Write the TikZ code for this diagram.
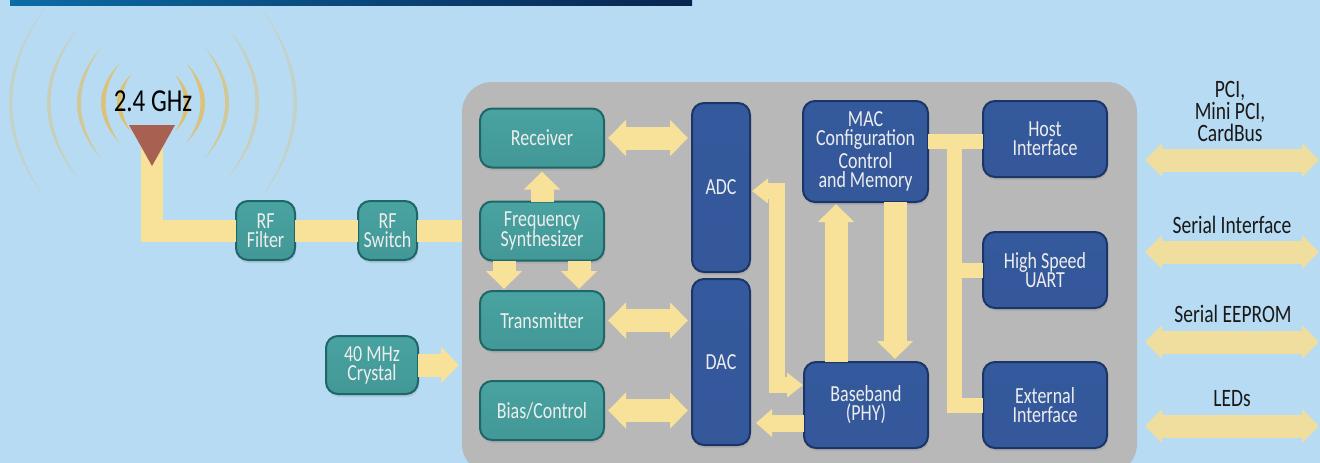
\documentclass[tikz,border=0pt]{standalone}
\usepackage{fontspec}
\setmainfont[FakeStretch=.78]{Carlito}
\usepackage{xcolor}
\usetikzlibrary{arrows.meta,positioning,calc,shadows}
\definecolor{skyback}{HTML}{B7DBF3}
\definecolor{chipgray}{HTML}{B8B8B8}
\definecolor{wireyellow}{HTML}{F8E199}
\definecolor{portyellow}{HTML}{F0DE9E}
\definecolor{waveorange}{HTML}{E4BC58}
\definecolor{tealedge}{HTML}{1F6668}
\definecolor{tealtop}{HTML}{49A3A1}
\definecolor{tealmid}{HTML}{57B0AD}
\definecolor{tealbot}{HTML}{429896}
\definecolor{blueedge}{HTML}{1B3566}
\definecolor{bluetop}{HTML}{34599C}
\definecolor{bluemid}{HTML}{3F66AC}
\definecolor{bluebot}{HTML}{34589A}
\definecolor{antennared}{HTML}{A86050}
\tikzset{
  chipbox/.style={rounded corners=12pt,outer sep=0pt,inner sep=0pt,align=center,text=white!93!black,
    font=\fontsize{23}{19}\selectfont,line width=2pt,
    drop shadow={shadow xshift=1pt,shadow yshift=-3pt,opacity=.2}},
  tealbox/.style={chipbox,draw=tealedge,top color=tealtop,middle color=tealmid,bottom color=tealbot},
  bluebox/.style={chipbox,draw=blueedge,top color=bluetop,middle color=bluemid,bottom color=bluebot},
  portlabel/.style={font=\fontsize{25}{22}\selectfont,align=center,text=black!90},
  fatarrow/.style={draw=wireyellow,line width=23pt,-{Triangle[length=18pt,width=35pt]}},
  fatboth/.style={draw=wireyellow,line width=23pt,{Triangle[length=18pt,width=35pt]}-{Triangle[length=18pt,width=35pt]}},
  thinboth/.style={draw=wireyellow,line width=16pt,{Triangle[length=16pt,width=24pt]}-{Triangle[length=16pt,width=24pt]}},
  portarrow/.style={draw=portyellow,line width=23pt,{Triangle[length=17pt,width=33pt]}-{Triangle[length=17pt,width=33pt]}},
  busline/.style={draw=wireyellow,line width=15pt}
}
\begin{document}
\begin{tikzpicture}[x=1pt,y=-1pt]
  \useasboundingbox (0,0) rectangle (1320,463);
  \clip (0,0) rectangle (1320,463);
  \fill[skyback] (0,0) rectangle (1320,463);
  \definecolor{barleft}{HTML}{0B6CA6}
  \definecolor{barright}{HTML}{0A2450}
  \shade[left color=barleft,right color=barright] (10,0) rectangle (692,5);

  % radio waves
  \foreach \r/\a/\w/\o in {36/52/4.5/.9,52/50/4.5/.8,76/47/4/.6,106/45/3.5/.4,144/42/3.5/.28}{
    \pgfmathsetmacro{\cx}{\r*cos(\a)}
    \pgfmathsetmacro{\cy}{\r*sin(\a)}
    \pgfmathsetmacro{\sag}{(\r-\cx)*4/3}
    \pgfmathsetmacro{\thin}{\w*4/3}
    \foreach \side in {-1,1}{
      \fill[waveorange,opacity=\o] ({153+\side*\cx},{103-\cy})
        .. controls ({153+\side*(\cx+\sag)},{103-\cy/3}) and ({153+\side*(\cx+\sag)},{103+\cy/3}) .. ({153+\side*\cx},{103+\cy})
        .. controls ({153+\side*(\cx+\sag-\thin)},{103+\cy/3}) and ({153+\side*(\cx+\sag-\thin)},{103-\cy/3}) .. ({153+\side*\cx},{103-\cy});
    }
  }

  % the chip
  \node (chip) at (799.5,278) [fill=chipgray,rounded corners=30pt,minimum width=675,minimum height=392,outer sep=0pt] {};

  \node (rx) at (542,138) [tealbox,minimum width=124,minimum height=59] {Receiver};
  \node (synth) at (542,231) [tealbox,minimum width=124,minimum height=59] {Frequency\\Synthesizer};
  \node (tx) at (542,320.5) [tealbox,minimum width=124,minimum height=59] {Transmitter};
  \node (bias) at (542,410.5) [tealbox,minimum width=124,minimum height=59] {Bias/Control};
  \node (rffilter) at (265.5,230.5) [tealbox,minimum width=59,minimum height=59] {RF\\Filter};
  \node (rfswitch) at (387.5,230.5) [tealbox,minimum width=59,minimum height=59] {RF\\Switch};
  \node (crystal) at (372,365) [tealbox,minimum width=92,minimum height=58] {40 MHz\\Crystal};

  \node (adc) at (721,187.5) [bluebox,minimum width=58,minimum height=169] {ADC};
  \node (dac) at (721,362) [bluebox,minimum width=58,minimum height=166] {DAC};
  \node (mac) at (865.5,151.5) [bluebox,minimum width=125,minimum height=101] {MAC\\Configuration\\[2pt]Control\\and Memory};
  \node (phy) at (866,405) [bluebox,minimum width=124,minimum height=86] {Baseband\\(PHY)};
  \node (host) at (1045,139) [bluebox,minimum width=124,minimum height=76] {Host\\Interface};
  \node (uart) at (1045,270) [bluebox,minimum width=124,minimum height=76] {High Speed\\UART};
  \node (extif) at (1045,405) [bluebox,minimum width=124,minimum height=86] {External\\Interface};

  % antenna path
  \coordinate (antenna) at (152,125);
  \draw[draw=wireyellow,line width=22pt] (antenna) |- (rffilter.west);
  \draw[draw=wireyellow,line width=22pt] (rffilter.east) -- (rfswitch.west);
  \draw[draw=wireyellow,line width=22pt] (rfswitch.east) -- (chip.west |- rfswitch.east);
  \fill[antennared] (129,125) -- (175,125) -- (152,166) -- cycle;
  \node (ghz) at (153,101) [font=\fontsize{32}{32}\selectfont,text=black] {2.4 GHz};

  % arrows inside the chip
  \draw[fatboth] ([xshift=4pt]rx.east) -- ([xshift=-4pt]rx.east -| adc.west);
  \draw[fatboth] ([xshift=4pt]tx.east) -- ([xshift=-4pt]tx.east -| dac.west);
  \draw[fatboth] ([xshift=4pt]bias.east) -- ([xshift=-4pt]bias.east -| dac.west);
  \draw[fatarrow] (synth.north) -- ([yshift=-4pt]rx.south);
  \draw[fatarrow] ([xshift=-38pt]synth.south) -- ([xshift=-38pt,yshift=2pt]tx.north);
  \draw[fatarrow] ([xshift=37pt]synth.south) -- ([xshift=37pt,yshift=2pt]tx.north);
  \draw[fatarrow] (836,362) -- (836,204);
  \draw[fatarrow] (895,202) -- (895,359);
  \draw[thinboth] (752,191) -- (777,191) -- (777,385) -- (803,385);
  \draw[draw=wireyellow,line width=17pt,-{Triangle[length=16pt,width=27pt]}] ([yshift=-18pt]phy.west) -- ([yshift=-18pt,xshift=6pt]phy.west -| adc.east);
  \draw[fatarrow] (crystal.east) -- (459,365);

  % bus to the interfaces
  \draw[busline] ([yshift=-2pt]mac.east |- host.west) -- ([yshift=-2pt]host.west);
  \draw[busline] (954,134) |- (extif.west);
  \draw[busline] (954,270) -- (uart.west);

  % ports
  \coordinate (pcia) at (1145,160);
  \coordinate (pcib) at (1319,160);
  \coordinate (seria) at (1145,252);
  \coordinate (serib) at (1319,252);
  \coordinate (eepa) at (1145,342);
  \coordinate (eepb) at (1319,342);
  \coordinate (leda) at (1145,426);
  \coordinate (ledb) at (1319,426);
  \draw[portarrow] (pcia) -- (pcib);
  \draw[portarrow] (seria) -- (serib);
  \draw[portarrow] (eepa) -- (eepb);
  \draw[portarrow] (leda) -- (ledb);
  \node (pcitext) at (1230,111) [portlabel] {PCI,\\Mini PCI,\\CardBus};
  \node (seritext) at (1232,225) [portlabel] {Serial Interface};
  \node (eeptext) at (1233,314) [portlabel] {Serial EEPROM};
  \node (ledtext) at (1232,399) [portlabel] {LEDs};
\end{tikzpicture}
\end{document}
